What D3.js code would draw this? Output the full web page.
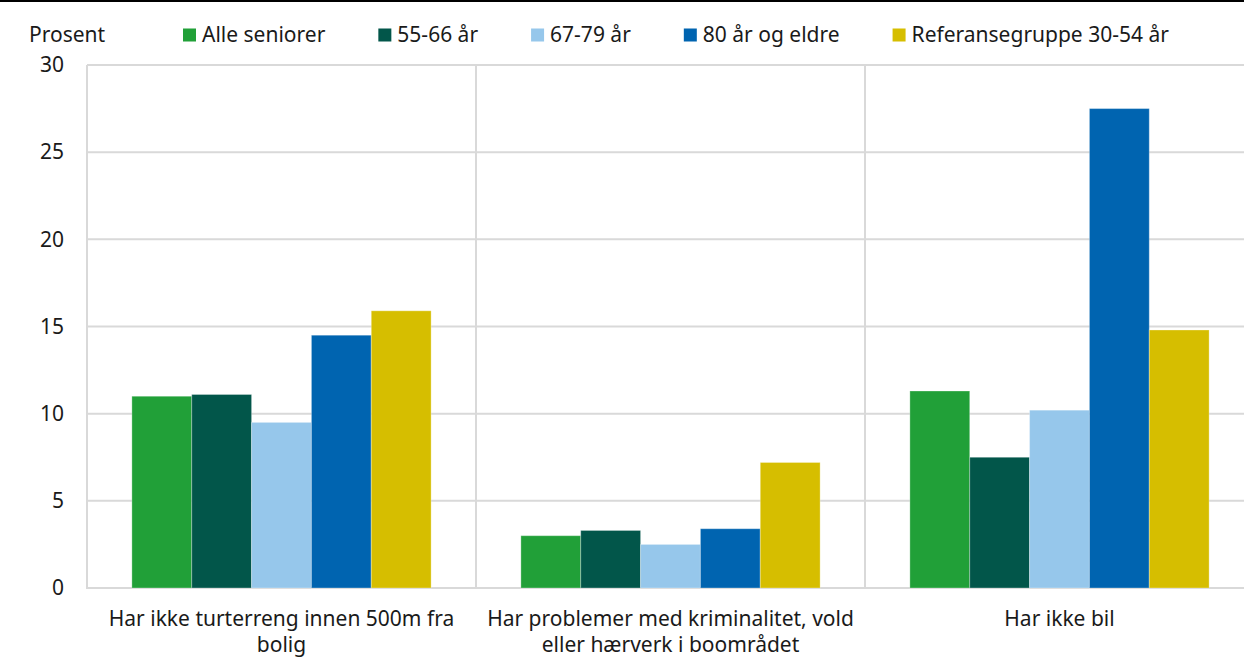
<!DOCTYPE html>
<html>
<head>
<meta charset="utf-8">
<script src="https://cdn.jsdelivr.net/npm/d3@7"></script>
<style>
  html, body { margin: 0; padding: 0; background: #fff; }
  svg { display: block; }
  text { font-family: "Noto Sans", "Open Sans", sans-serif; fill: #1a1a1a; }
</style>
</head>
<body>
<svg id="chart" width="1244" height="659"></svg>
<script>
// ---- data ----
const categories = [
  ["Har ikke turterreng innen 500m fra", "bolig"],
  ["Har problemer med kriminalitet, vold", "eller hærverk i boområdet"],
  ["Har ikke bil"]
];
const seriesNames = ["Alle seniorer", "55-66 år", "67-79 år", "80 år og eldre", "Referansegruppe 30-54 år"];
const allSeniors   = [11.0, 3.0, 11.3];
const age55to66    = [11.1, 3.3, 7.5];
const age67to79    = [9.5, 2.5, 10.2];
const age80plus    = [14.5, 3.4, 27.5];
const reference    = [15.9, 7.2, 14.8];
const seriesValues = [allSeniors, age55to66, age67to79, age80plus, reference];
const colors = ["#21a038", "#02564a", "#96c7eb", "#0064b0", "#d6be00"];
const yTicks = [0, 5, 10, 15, 20, 25, 30];
const yLabel = "Prosent";

// ---- layout ----
const svg = d3.select("#chart");
const W = 1244, H = 659;
const mLeft = 87, mRight = 1254, mTop = 65, mBottom = 588;
const fontSize = 21;

const catKeys = categories.map((c, i) => i);
const x0 = d3.scaleBand().domain(catKeys).range([mLeft, mRight]).padding(0);
const x1 = d3.scaleBand().domain(d3.range(seriesNames.length))
  .range([0, x0.bandwidth()]).paddingInner(0).paddingOuter(0.75);
const y = d3.scaleLinear().domain([0, 30]).range([mBottom, mTop]);

// top black rule
svg.append("rect").attr("x", 0).attr("y", 0).attr("width", W).attr("height", 2).attr("fill", "#000");

// horizontal gridlines
svg.append("g").selectAll("line").data(yTicks).join("line")
  .attr("x1", mLeft).attr("x2", mRight)
  .attr("y1", d => y(d)).attr("y2", d => y(d))
  .attr("stroke", "#d9d9d9").attr("stroke-width", 2);

// vertical category separators
svg.append("g").selectAll("line").data(catKeys).join("line")
  .attr("x1", d => x0(d)).attr("x2", d => x0(d))
  .attr("y1", y(30)).attr("y2", y(0) + 1)
  .attr("stroke", "#d9d9d9").attr("stroke-width", 2);

// bars
const groups = svg.append("g").selectAll("g").data(catKeys).join("g")
  .attr("transform", d => `translate(${x0(d)},0)`);
groups.selectAll("rect")
  .data(ci => seriesValues.map((vals, si) => ({ si, v: vals[ci] })))
  .join("rect")
  .attr("x", d => x1(d.si))
  .attr("width", x1.bandwidth())
  .attr("y", d => y(d.v))
  .attr("height", d => y(0) - y(d.v))
  .attr("fill", d => colors[d.si])
  .attr("stroke", "#ffffff").attr("stroke-opacity", 0.3).attr("stroke-width", 1);

// y axis labels
const yAxis = d3.axisLeft(y).tickValues(yTicks).tickSize(0).tickPadding(0);
const ya = svg.append("g").attr("transform", `translate(64,0)`).call(yAxis);
ya.select(".domain").remove();
ya.selectAll("text").attr("font-size", fontSize).attr("font-family", null).attr("fill", "#1a1a1a");

// x axis labels
svg.append("g").selectAll("text").data(catKeys).join("text")
  .attr("text-anchor", "middle")
  .attr("font-size", fontSize)
  .each(function (d) {
    const t = d3.select(this);
    categories[d].forEach((line, li) => {
      t.append("tspan")
        .attr("x", x0(d) + x0.bandwidth() / 2)
        .attr("y", 626 + li * 26)
        .text(line);
    });
  });

// legend
svg.append("text").attr("x", 29).attr("y", 41.5).attr("font-size", fontSize).text(yLabel);
const lg = svg.append("g");
let lx = 183;
seriesNames.forEach((name, i) => {
  lg.append("rect").attr("x", lx).attr("y", 28.5).attr("width", 13).attr("height", 13).attr("fill", colors[i]);
  const t = lg.append("text").attr("x", lx + 19).attr("y", 41.5).attr("font-size", fontSize).text(name);
  lx = lx + 19 + t.node().getComputedTextLength() + 53;
});
</script>
</body>
</html>
